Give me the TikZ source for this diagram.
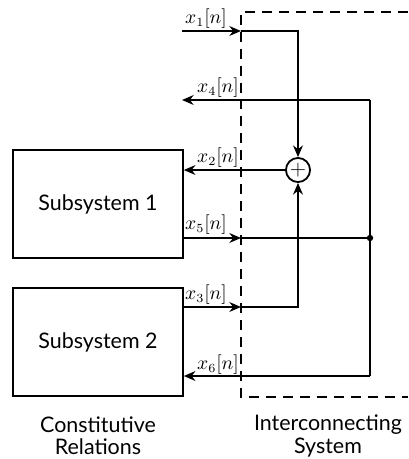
\documentclass[tikz,border=0pt]{standalone}
\usepackage{fontspec}
\setmainfont{Lato}
\usetikzlibrary{arrows.meta}
\begin{document}
\begin{tikzpicture}[x=0.56pt,y=-0.56pt,
  wire/.style={line width=1pt},
  sig/.style={wire,-{Stealth[length=6.5pt,width=5.5pt]}},
  subbox/.style={draw,line width=0.9pt,minimum width=95.2pt,minimum height=60.5pt,inner sep=0pt,font=\fontsize{12}{14}\selectfont},
  sumnode/.style={draw,circle,line width=1pt,minimum size=13.5pt,inner sep=0pt,font=\large},
  lab/.style={inner sep=0pt,font=\fontsize{10.5}{12}\selectfont},
  caption/.style={align=center,font=\fontsize{12}{12.5}\selectfont,inner sep=0pt},
  boundary/.style={line width=0.9pt,dash pattern=on 5.6pt off 3.9pt}]
\useasboundingbox (0,0) rectangle (408,459);
% boundary
\coordinate (bt) at (408,12);
\coordinate (tl) at (241,12);
\coordinate (bl) at (241,397);
\coordinate (bb) at (408,397);
\draw[boundary] (bt) -- (tl) -- (bl) -- (bb);
% subsystems
\node[subbox] (sub1) at (98,204) {Subsystem 1};
\node[subbox] (sub2) at (98,342) {Subsystem 2};
\node[sumnode] (sum) at (298,170) {$+$};
% coordinates
\coordinate (x1s) at (182,31);
\coordinate (b1) at (241,31);
\coordinate (c4) at (370,100);
\coordinate (x4e) at (182,100);
\coordinate (s5) at (183,238);
\coordinate (b5) at (241,238);
\coordinate (c5) at (370,238);
\coordinate (s3) at (183,307);
\coordinate (b3) at (241,307);
\coordinate (c6) at (370,376);
% x1
\draw[sig] (x1s) -- (b1);
\draw[sig] (b1) -| (sum.north);
% x4
\draw[sig] (c4) -- (x4e);
\draw[wire] (c4) -- (c6);
% x2
\draw[sig] (sum.west) -- (sub1.east |- sum.west);
% x5
\draw[sig] (s5) -- (b5);
\draw[wire] (b5) -- (c5);
\fill (c5) circle[radius=1.8pt];
% x3
\draw[sig] (s3) -- (b3);
\draw[sig] (b3) -| (sum.south);
% x6
\draw[sig] (c6) -- (sub2.east |- c6);
% labels
\node[lab] (l1) at (206,19) {$x_1[n]$};
\node[lab] (l4) at (218,88) {$x_4[n]$};
\node[lab] (l2) at (218,158) {$x_2[n]$};
\node[lab] (l5) at (206,225) {$x_5[n]$};
\node[lab] (l3) at (206,295) {$x_3[n]$};
\node[lab] (l6) at (218,365) {$x_6[n]$};
% captions
\node[caption] (cr) at (98,436) {Constitutive\\Relations};
\node[caption] (is) at (328,436) {Interconnecting\\System};
\end{tikzpicture}
\end{document}
